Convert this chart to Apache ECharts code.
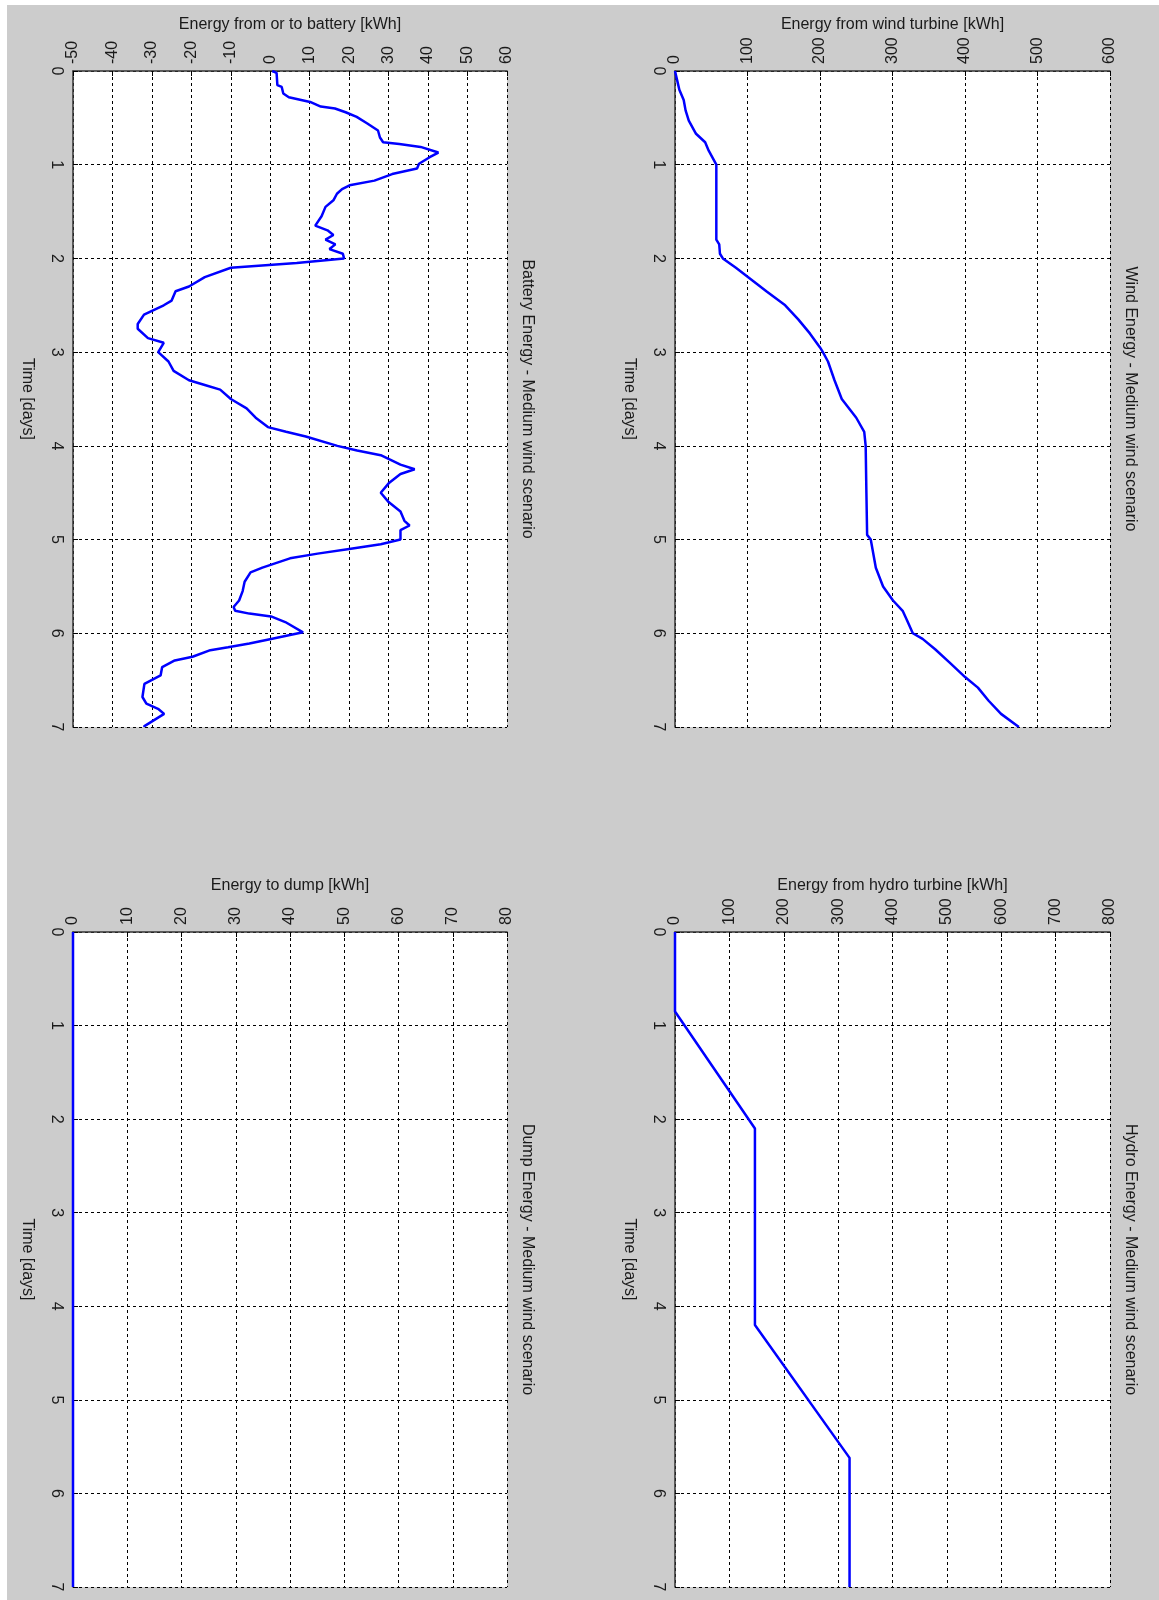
<!DOCTYPE html>
<html>
<head>
<meta charset="utf-8">
<script src="https://cdn.jsdelivr.net/npm/echarts@6/dist/echarts.min.js"></script>
<style>
    html, body { margin: 0; padding: 0; background: #fff; }
    #chart { width: 1159px; height: 1600px; }
</style>
</head>
<body>
<div id="chart"></div>
<script>
// time in days, energy in kWh (figure is printed rotated, time runs downward)
const windTime = [0, 0.1, 0.2, 0.31, 0.42, 0.53, 0.67, 0.76, 0.85, 1.0, 1.8, 1.85, 1.95, 2.0, 2.1, 2.2, 2.35, 2.5, 2.65, 2.8, 2.95, 3.0, 3.1, 3.3, 3.5, 3.7, 3.85, 4.0, 4.5, 4.95, 5.0, 5.3, 5.5, 5.65, 5.76, 5.86, 6.0, 6.06, 6.17, 6.31, 6.47, 6.58, 6.72, 6.86, 7.0]
const windEnergy = [0, 3, 6, 12, 14.6, 19, 29, 41.6, 46.5, 57, 57, 61, 62, 66, 84, 101, 126, 152, 170, 186, 200, 204, 211, 220, 230, 250, 261, 263, 264, 265, 270, 277, 287, 300.7, 314, 320, 328, 341.5, 358.8, 378.5, 400.5, 417.8, 432.6, 449.7, 474.3]

const hydroTime = [0, 0.85, 2.1, 4.2, 5.62, 7]
const hydroEnergy = [0, 0, 147, 147, 321, 321]

const batteryTime = [0, 0.02, 0.15, 0.17, 0.24, 0.28, 0.33, 0.38, 0.4, 0.44, 0.49, 0.56, 0.635, 0.71, 0.76, 0.78, 0.81, 0.87, 0.92, 0.99, 1.04, 1.1, 1.17, 1.22, 1.26, 1.31, 1.38, 1.45, 1.55, 1.65, 1.7, 1.75, 1.8, 1.85, 1.9, 1.95, 2.0, 2.05, 2.1, 2.2, 2.3, 2.35, 2.45, 2.5, 2.6, 2.7, 2.75, 2.85, 2.9, 3.0, 3.1, 3.2, 3.3, 3.35, 3.4, 3.5, 3.6, 3.7, 3.8, 3.85, 3.9, 4.0, 4.05, 4.1, 4.2, 4.25, 4.3, 4.4, 4.5, 4.6, 4.7, 4.8, 4.85, 4.9, 5.0, 5.05, 5.1, 5.15, 5.2, 5.3, 5.35, 5.45, 5.55, 5.65, 5.72, 5.76, 5.79, 5.82, 5.88, 5.99, 6.06, 6.11, 6.15, 6.18, 6.25, 6.29, 6.36, 6.45, 6.54, 6.68, 6.75, 6.81, 6.86, 6.99, 7.0]
const batteryEnergy = [0.5, 1.6, 1.8, 2.9, 3.3, 4.7, 10.1, 12.8, 16.4, 19.1, 21.9, 24.6, 27.3, 27.8, 28.6, 32.7, 38.1, 42.6, 40.4, 37.7, 37.2, 30.9, 26.4, 20.1, 18.2, 16.9, 16, 14, 13, 11.4, 14.5, 16, 14, 16.5, 15, 18.4, 18.7, 6.7, -10, -16.6, -20.6, -24, -25, -27, -32, -33.6, -33.6, -31, -27, -28.4, -25.8, -24.5, -20.6, -16.6, -12.7, -10, -6, -3.7, -0.6, 4, 9, 17, 22, 28, 33, 36.6, 33, 30, 28, 30, 33, 34, 35.3, 33, 33, 28, 20, 12, 5, -2, -5, -6.5, -7, -7.9, -9.3, -8.9, -5.3, 0.2, 3.8, 8.3, 0.2, -5.3, -10.7, -15.2, -19.7, -24.2, -27.4, -27.8, -31.9, -32.4, -31.4, -28.3, -26.9, -31.9, -32]

const dumpTime = [0, 7]
const dumpEnergy = [0, 0]

const timeMin = 0
const timeMax = 7

const tickFont = "'Liberation Sans Narrow', 'Liberation Sans', Arial, sans-serif"
const nameFont = "'Liberation Sans', Arial, sans-serif"
const textColor = '#1a1a1a'

const panels = [
    {
        title: 'Wind Energy - Medium wind scenario',
        energyName: 'Energy from wind turbine [kWh]',
        min: 0, max: 600, interval: 100,
        time: windTime, energy: windEnergy,
        left: 675, top: 71, width: 435, height: 656,
    },
    {
        title: 'Battery Energy - Medium wind scenario',
        energyName: 'Energy from or to battery [kWh]',
        min: -50, max: 60, interval: 10,
        time: batteryTime, energy: batteryEnergy,
        left: 73, top: 71, width: 434, height: 656,
    },
    {
        title: 'Hydro Energy - Medium wind scenario',
        energyName: 'Energy from hydro turbine [kWh]',
        min: 0, max: 800, interval: 100,
        time: hydroTime, energy: hydroEnergy,
        left: 675, top: 932, width: 435, height: 655,
    },
    {
        title: 'Dump Energy - Medium wind scenario',
        energyName: 'Energy to dump [kWh]',
        min: 0, max: 80, interval: 10,
        time: dumpTime, energy: dumpEnergy,
        left: 73, top: 932, width: 434, height: 655,
    },
]

const dashed = { color: '#000', width: 1, type: [3, 3] }

const chart = echarts.init(document.getElementById('chart'))

const option = {
    backgroundColor: '#cccccc',
    animation: false,
    grid: panels.map(p => ({
        left: p.left,
        top: p.top,
        width: p.width,
        height: p.height,
        show: true,
        backgroundColor: '#fff',
        borderWidth: 0,
        containLabel: false,
    })),
    xAxis: panels.map((p, i) => ({
        type: 'value',
        gridIndex: i,
        position: 'top',
        min: p.min,
        max: p.max,
        interval: p.interval,
        axisLine: { show: true, onZero: false, lineStyle: { color: '#333', width: 1.5 } },
        axisTick: { show: true, inside: true, length: 5, lineStyle: { color: '#000' } },
        axisLabel: {
            rotate: -90,
            margin: 7,
            fontSize: 16,
            fontFamily: tickFont,
            color: textColor,
        },
        splitLine: { show: true, lineStyle: dashed },
        name: p.energyName,
        nameLocation: 'middle',
        nameGap: 38,
        nameTextStyle: { fontSize: 16, fontFamily: nameFont, color: textColor },
    })),
    yAxis: panels.map((p, i) => ({
        type: 'value',
        gridIndex: i,
        position: 'left',
        inverse: true,
        min: timeMin,
        max: timeMax,
        interval: 1,
        axisLine: { show: true, onZero: false, lineStyle: { color: '#333', width: 1.5 } },
        axisTick: { show: true, inside: true, length: 5, lineStyle: { color: '#000' } },
        axisLabel: {
            rotate: -90,
            margin: 9,
            fontSize: 16,
            fontFamily: tickFont,
            color: textColor,
        },
        splitLine: { show: true, lineStyle: dashed },
        name: 'Time [days]',
        nameLocation: 'middle',
        nameRotate: -90,
        nameGap: 38,
        nameTextStyle: { fontSize: 16, fontFamily: nameFont, color: textColor },
    })),
    series: panels.map((p, i) => ({
        type: 'line',
        xAxisIndex: i,
        yAxisIndex: i,
        data: p.time.map((t, k) => [p.energy[k], t]),
        showSymbol: false,
        lineStyle: { color: '#0000ff', width: 2.5 },
        z: 5,
    })),
    graphic: [
        // thin white margin the scan left at top and left
        { type: 'rect', shape: { x: 0, y: 0, width: 1159, height: 5 }, style: { fill: '#fff' }, silent: true },
        { type: 'rect', shape: { x: 0, y: 0, width: 7, height: 1600 }, style: { fill: '#fff' }, silent: true },
    ].concat(panels.map(p => ({
        type: 'text',
        x: p.left + p.width + 20,
        y: p.top + p.height / 2,
        rotation: -Math.PI / 2,
        style: {
            text: p.title,
            fontSize: 16,
            fontFamily: nameFont,
            fill: textColor,
            align: 'center',
            verticalAlign: 'middle',
        },
    }))),
}

chart.setOption(option)
</script>
</body>
</html>
